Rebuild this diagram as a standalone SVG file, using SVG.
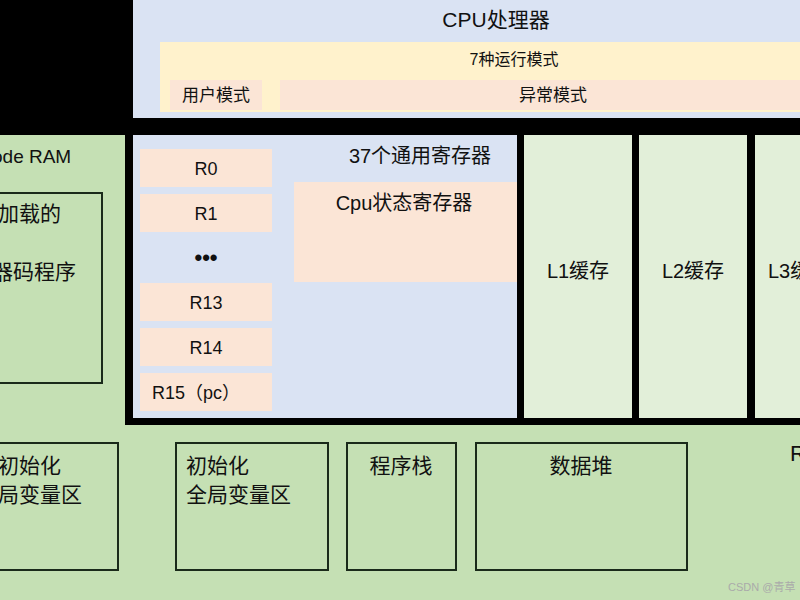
<svg xmlns="http://www.w3.org/2000/svg" width="800" height="600" viewBox="0 0 800 600">
<style>
text{font-family:"Liberation Sans","Noto Sans CJK SC",sans-serif;fill:#111}
.pe{fill:#fbe5d6}
.bx{fill:none;stroke:#1a2a1a;stroke-width:2}
.l{fill:#e2efd9}
</style>
<rect width="800" height="600" fill="#000"/>
<g id="cpu">
<rect x="133" y="0" width="667" height="118" fill="#dae3f3"/>
<text x="496" y="27" font-size="21" text-anchor="middle">CPU处理器</text>
<rect x="160" y="42" width="640" height="70" fill="#fff2cc"/>
<text x="514" y="65" font-size="16" text-anchor="middle">7种运行模式</text>
<rect class="pe" x="170" y="80" width="92" height="30"/>
<text x="216" y="101" font-size="17" text-anchor="middle">用户模式</text>
<rect class="pe" x="280" y="80" width="520" height="30"/>
<text x="553" y="101" font-size="17" text-anchor="middle">异常模式</text>
</g>
<g id="coderam">
<rect x="0" y="135" width="125" height="290" fill="#c5e0b4"/>
<text x="-8" y="163" font-size="19">ode RAM</text>
<rect class="bx" x="-5" y="193" width="107" height="190"/>
<text x="-2" y="221" font-size="21">加载的</text>
<text x="-8" y="279" font-size="21">器码程序</text>
</g>
<g id="registers">
<rect x="133" y="135" width="384" height="283" fill="#dae3f3"/>
<text x="420" y="163" font-size="20" text-anchor="middle">37个通用寄存器</text>
<rect class="pe" x="140" y="149" width="132" height="38"/><text x="206" y="175" font-size="18" text-anchor="middle">R0</text>
<rect class="pe" x="140" y="194" width="132" height="38"/><text x="206" y="220" font-size="18" text-anchor="middle">R1</text>
<text x="206" y="265" font-size="22" text-anchor="middle" font-weight="bold">•••</text>
<rect class="pe" x="140" y="283" width="132" height="38"/><text x="206" y="309" font-size="18" text-anchor="middle">R13</text>
<rect class="pe" x="140" y="328" width="132" height="38"/><text x="206" y="354" font-size="18" text-anchor="middle">R14</text>
<rect class="pe" x="140" y="373" width="132" height="38"/><text x="152" y="399" font-size="18">R15（pc）</text>
<rect class="pe" x="294" y="182" width="223" height="100"/>
<text x="404" y="210" font-size="20" text-anchor="middle">Cpu状态寄存器</text>
</g>
<g id="l1"><rect class="l" x="524" y="135" width="108" height="283"/><text x="578" y="278" font-size="20" text-anchor="middle">L1缓存</text></g>
<g id="l2"><rect class="l" x="639" y="135" width="108" height="283"/><text x="693" y="278" font-size="20" text-anchor="middle">L2缓存</text></g>
<g id="l3"><rect class="l" x="755" y="135" width="60" height="283"/><text x="768" y="278" font-size="20">L3缓存</text></g>
<g id="ram">
<rect x="0" y="425" width="800" height="175" fill="#c5e0b4"/>
<text x="790" y="461" font-size="22">R</text>
</g>
<g id="uninit"><rect class="bx" x="-5" y="443" width="123" height="127"/><text x="-2" y="473" font-size="21">初始化</text><text x="-2" y="502" font-size="21">局变量区</text></g>
<g id="init"><rect class="bx" x="176" y="443" width="152" height="127"/><text x="186" y="473" font-size="21">初始化</text><text x="186" y="502" font-size="21">全局变量区</text></g>
<g id="stack"><rect class="bx" x="347" y="443" width="109" height="127"/><text x="401" y="473" font-size="21" text-anchor="middle">程序栈</text></g>
<g id="heap"><rect class="bx" x="476" y="443" width="211" height="127"/><text x="581" y="473" font-size="21" text-anchor="middle">数据堆</text></g>
<text x="728" y="591" font-size="11" fill="#aaa" style="fill:#aaa">CSDN @青草</text>
<g id="connectors"/>
</svg>
